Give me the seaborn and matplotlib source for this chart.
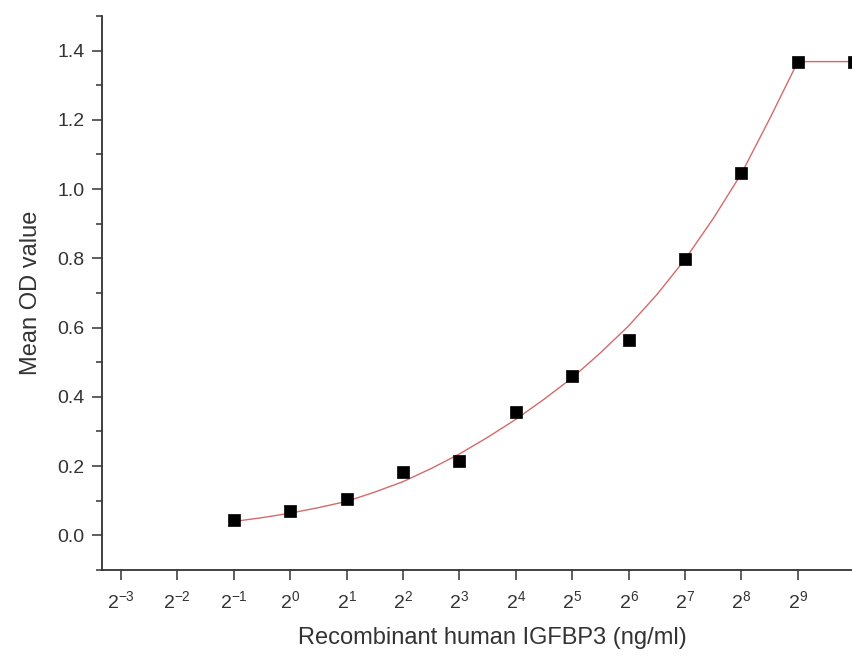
import numpy as np
import pandas as pd
import seaborn as sns
import matplotlib.pyplot as plt
from matplotlib.ticker import FixedLocator, MultipleLocator

# measured points (log2 of concentration, mean OD)
log2_conc = [-1, 0, 1, 2, 3, 4, 5, 6, 7, 8, 9, 10]
mean_od = [0.043, 0.069, 0.104, 0.182, 0.214, 0.355, 0.459, 0.563, 0.797, 1.045, 1.368, 1.368]

# fitted curve
curve_log2 = [-1, -0.5, 0, 0.5, 1, 1.5, 2, 2.5, 3, 3.5, 4, 4.5, 5, 5.5, 6, 6.5, 7, 7.5, 8, 8.5, 9, 9.5, 10]
curve_od = [0.040, 0.051, 0.064, 0.080, 0.098, 0.125, 0.155, 0.193, 0.235, 0.283, 0.335, 0.393,
            0.455, 0.527, 0.605, 0.695, 0.797, 0.915, 1.045, 1.203, 1.368, 1.368, 1.368]

tick_exps = list(range(-3, 10))

sns.set_style("ticks")
plt.rcParams['font.family'] = ['Liberation Sans', 'DejaVu Sans']
plt.rcParams['mathtext.fontset'] = 'custom'
plt.rcParams['mathtext.rm'] = 'Liberation Sans'
plt.rcParams['mathtext.it'] = 'Liberation Sans'

df_pts = pd.DataFrame({'conc': np.power(2.0, log2_conc), 'od': mean_od})
df_fit = pd.DataFrame({'conc': np.power(2.0, curve_log2), 'od': curve_od})

fig = plt.figure(figsize=(8.53, 6.62), dpi=100)
ax = fig.add_axes([0.1196, 0.139, 0.915, 0.837])

sns.lineplot(data=df_fit, x='conc', y='od', ax=ax, color='#d46a6a', linewidth=1.0)
sns.scatterplot(data=df_pts, x='conc', y='od', ax=ax, marker='s', s=75, color='black',
                edgecolor='black', linewidth=0.5, zorder=3)

ax.set_xscale('log', base=2)
ax.set_xlim(2 ** -3.335, 2 ** 10.5)
ax.set_ylim(-0.1, 1.5)

ax.xaxis.set_major_locator(FixedLocator([2.0 ** e for e in tick_exps]))
ax.set_xticklabels([r'$2^{%d}$' % e for e in tick_exps])
ax.xaxis.set_minor_locator(FixedLocator([]))
ax.yaxis.set_major_locator(MultipleLocator(0.2))
ax.yaxis.set_minor_locator(MultipleLocator(0.1))
ax.yaxis.set_major_formatter(plt.FuncFormatter(lambda v, p: '%.1f' % v))

ax.tick_params(axis='both', which='major', direction='out', length=7.5, width=1.1,
               labelsize=14, color='#333333', labelcolor='#333333')
ax.tick_params(axis='y', which='minor', direction='out', length=4, width=1.1, color='#333333')
ax.tick_params(axis='y', which='major', pad=5)
ax.tick_params(axis='x', which='major', pad=7)

for side in ['top', 'right']:
    ax.spines[side].set_visible(False)
for side in ['left', 'bottom']:
    ax.spines[side].set_linewidth(1.3)
    ax.spines[side].set_color('#333333')

ax.set_xlabel('Recombinant human IGFBP3 (ng/ml)', fontsize=17, color='#333333', labelpad=11)
ax.set_ylabel('Mean OD value', fontsize=17, color='#333333', labelpad=11)

fig.savefig('out.png', dpi=100)
